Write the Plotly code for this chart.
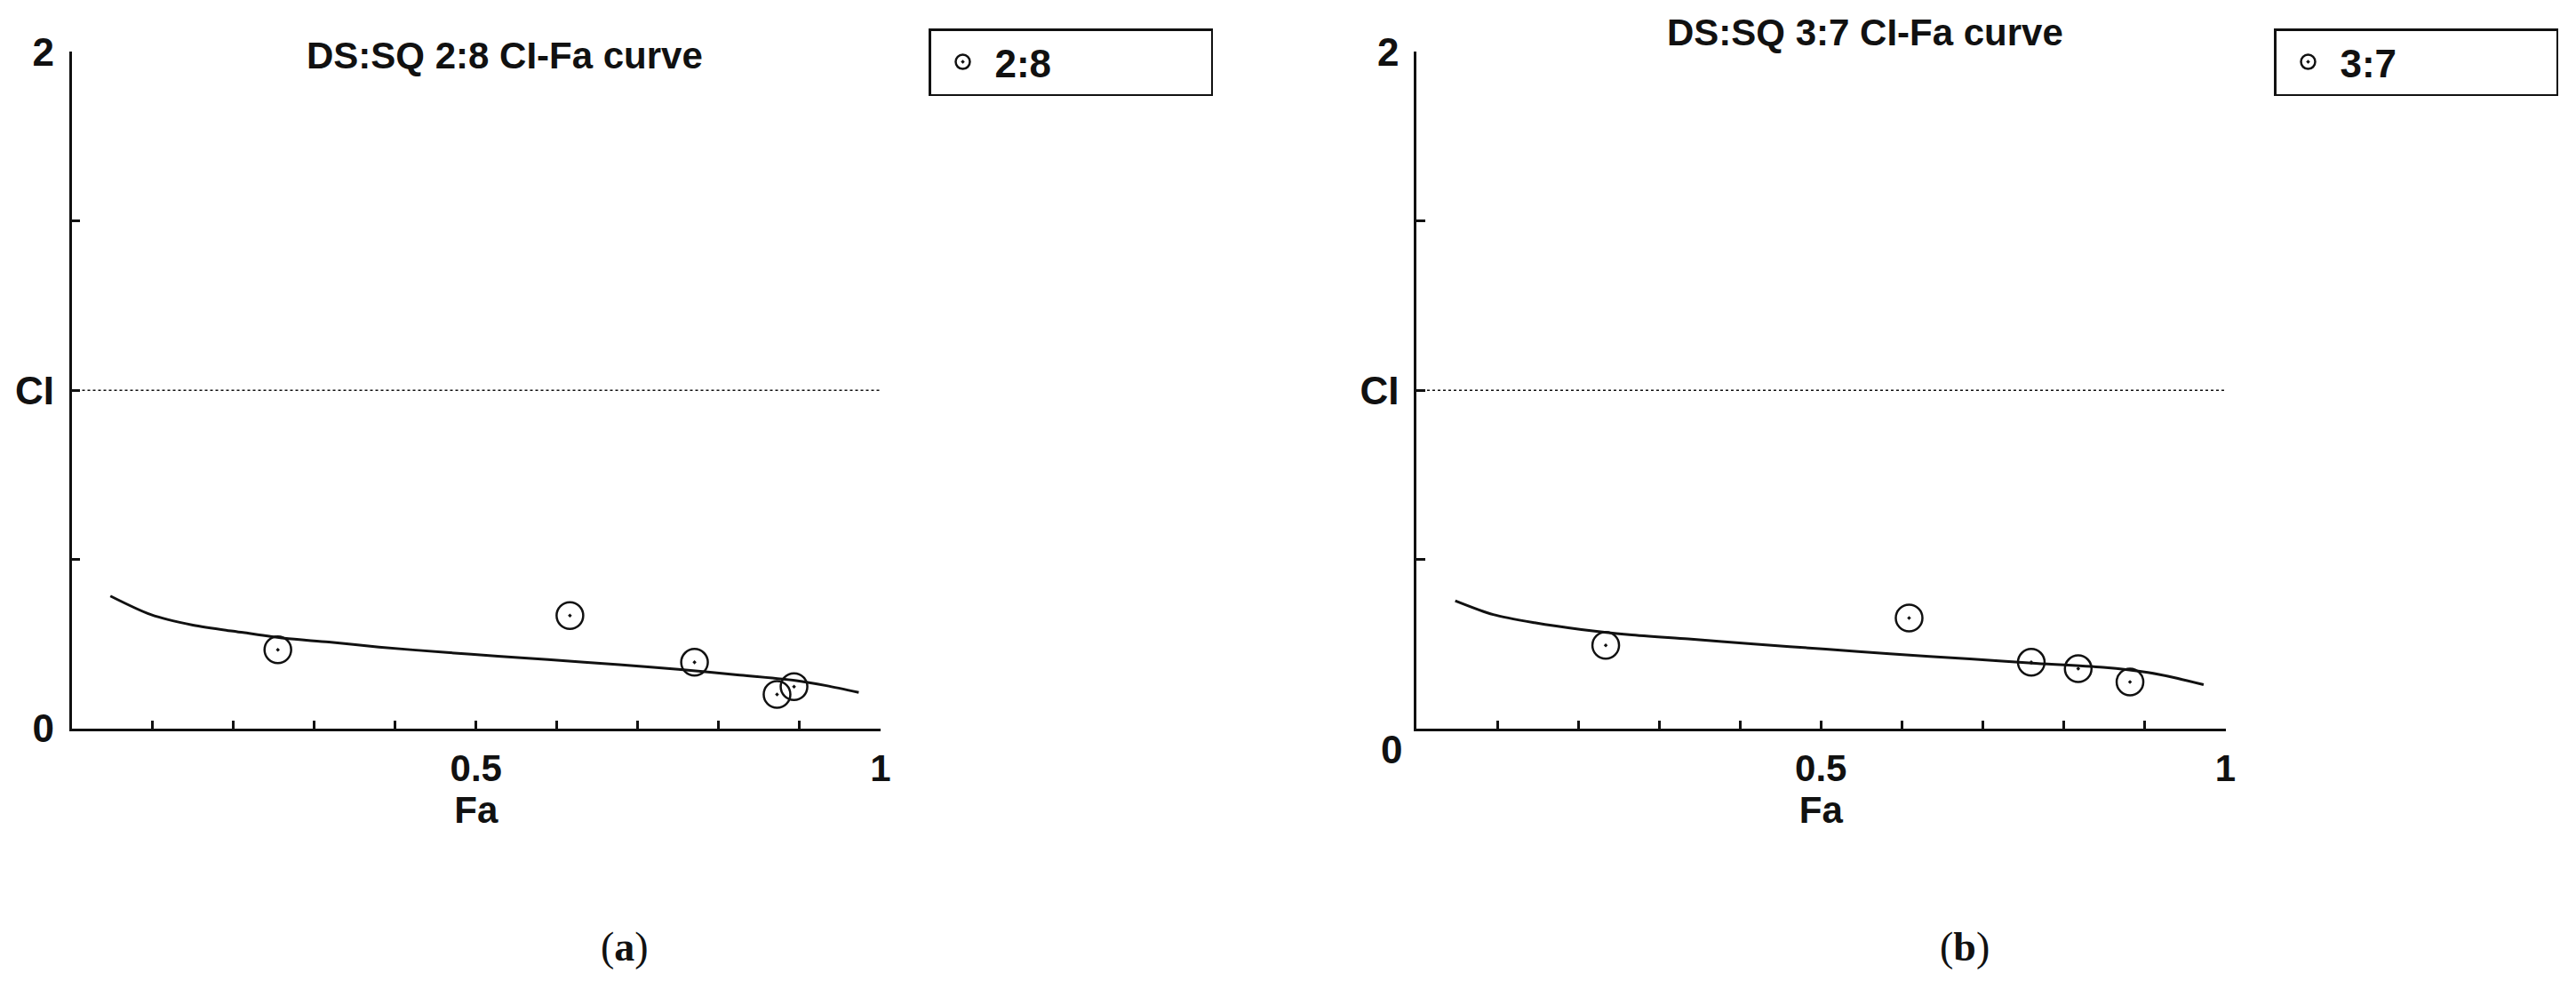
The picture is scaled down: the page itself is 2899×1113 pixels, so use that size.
import plotly.graph_objects as go

W, H = 2899, 1113

# ---- data ----
fa_28 = [0.255, 0.616, 0.770, 0.872, 0.893]
ci_28 = [0.233, 0.334, 0.196, 0.101, 0.124]
curve_fa_28 = [0.048, 0.098, 0.150, 0.212, 0.263, 0.318, 0.380, 0.464, 0.527,
               0.589, 0.677, 0.750, 0.823, 0.896, 0.933, 0.973]
curve_ci_28 = [0.392, 0.337, 0.306, 0.284, 0.267, 0.256, 0.241, 0.225, 0.214,
               0.204, 0.189, 0.175, 0.159, 0.142, 0.127, 0.107]

fa_37 = [0.234, 0.609, 0.760, 0.818, 0.882]
ci_37 = [0.246, 0.327, 0.196, 0.177, 0.138]
curve_fa_37 = [0.048, 0.095, 0.146, 0.204, 0.263, 0.336, 0.417, 0.506, 0.585,
               0.684, 0.757, 0.849, 0.904, 0.940, 0.973]
curve_ci_37 = [0.378, 0.337, 0.313, 0.293, 0.278, 0.265, 0.250, 0.235, 0.221,
               0.206, 0.194, 0.181, 0.166, 0.149, 0.130]

ci_ref = [1, 1]
ci_ref_x = [0, 1]

x_tickvals = [0, 0.1, 0.2, 0.3, 0.4, 0.5, 0.6, 0.7, 0.8, 0.9, 1.0]
x_ticktext = ["", "", "", "", "", "0.5", "", "", "", "", "1"]
y_tickvals = [0, 0.5, 1, 1.5, 2]
y_ticktext_a = ["0", "", "CI", "", "2"]
y_ticktext_b = ["", "", "CI", "", "2"]

titles = ["DS:SQ 2:8 CI-Fa curve", "DS:SQ 3:7 CI-Fa curve"]
series_names = ["2:8", "3:7"]
panel_labels = ["(<b>a</b>)", "(<b>b</b>)"]

FONT = "Liberation Sans, Arial, sans-serif"
BLACK = "#111111"

fig = go.Figure()

panels = [
    dict(xa="x", ya="y", fa=fa_28, ci=ci_28, cfa=curve_fa_28, cci=curve_ci_28,
         name=series_names[0], legend="legend"),
    dict(xa="x2", ya="y2", fa=fa_37, ci=ci_37, cfa=curve_fa_37, cci=curve_ci_37,
         name=series_names[1], legend="legend2"),
]

for p in panels:
    fig.add_trace(go.Scatter(x=ci_ref_x, y=ci_ref, mode="lines", xaxis=p["xa"], yaxis=p["ya"],
                             line=dict(color=BLACK, width=1.5, dash="dot"), showlegend=False,
                             hoverinfo="skip"))
    fig.add_trace(go.Scatter(x=p["cfa"], y=p["cci"], mode="lines", xaxis=p["xa"], yaxis=p["ya"],
                             line=dict(color=BLACK, width=3, shape="spline", smoothing=0.8),
                             showlegend=False))
    fig.add_trace(go.Scatter(x=p["fa"], y=p["ci"], mode="markers", xaxis=p["xa"], yaxis=p["ya"],
                             name=p["name"], legend=p["legend"],
                             marker=dict(symbol="circle-open-dot", size=30, color=BLACK,
                                         line=dict(width=2.5, color=BLACK))))

def xaxis(domain, anchor):
    return dict(domain=domain, anchor=anchor, range=[0, 1], showline=True, linecolor=BLACK,
                linewidth=2.5, ticks="inside", ticklen=9, tickwidth=2.5, tickcolor=BLACK,
                tickvals=x_tickvals, ticktext=x_ticktext, showgrid=False, zeroline=False,
                automargin=False,
                tickfont=dict(family=FONT, size=42, color=BLACK, weight="bold"),
                ticklabelstandoff=6,
                title=dict(text="Fa", font=dict(family=FONT, size=42, color=BLACK, weight="bold"),
                           standoff=4))

def yaxis(domain, anchor, ticktext):
    return dict(domain=domain, anchor=anchor, range=[0, 2], showline=True, linecolor=BLACK,
                linewidth=2.5, ticks="inside", ticklen=10, tickwidth=2.5, tickcolor=BLACK,
                tickvals=y_tickvals, ticktext=ticktext, showgrid=False, zeroline=False,
                automargin=False,
                tickfont=dict(family=FONT, size=44, color=BLACK, weight="bold"),
                ticklabelstandoff=8)

legend_common = dict(xanchor="left", yanchor="top", orientation="h", entrywidth=238,
                     itemwidth=62, bordercolor=BLACK, borderwidth=2.5, bgcolor="white",
                     font=dict(family=FONT, size=44, color=BLACK, weight="bold"))

ydom = [1 - 820 / H, 1 - 58.4 / H]
fig.update_layout(
    width=W, height=H,
    margin=dict(l=0, r=0, t=0, b=0, pad=0, autoexpand=False),
    paper_bgcolor="white", plot_bgcolor="white",
    xaxis=xaxis([80.5 / W, 991 / W], "y"),
    yaxis=yaxis(ydom, "x", y_ticktext_a),
    xaxis2=xaxis([1594 / W, 2504.5 / W], "y2"),
    yaxis2=yaxis(ydom, "x2", y_ticktext_b),
    legend=dict(x=1045 / W, y=1 - 32 / H, **legend_common),
    legend2=dict(x=2559 / W, y=1 - 32 / H, **legend_common),
    showlegend=True,
)

ann_font = dict(family=FONT, size=42, color=BLACK, weight="bold")
fig.add_annotation(text=titles[0], x=568 / W, y=1 - 63 / H, xref="paper", yref="paper",
                   xanchor="center", yanchor="middle", showarrow=False, font=ann_font)
fig.add_annotation(text=titles[1], x=2099 / W, y=1 - 36 / H, xref="paper", yref="paper",
                   xanchor="center", yanchor="middle", showarrow=False, font=ann_font)
fig.add_annotation(text="0", x=1566 / W, y=1 - 843 / H, xref="paper", yref="paper",
                   xanchor="center", yanchor="middle", showarrow=False,
                   font=dict(family=FONT, size=44, color=BLACK, weight="bold"))

serif = dict(family="Liberation Serif, Times New Roman, serif", size=46, color=BLACK)
fig.add_annotation(text=panel_labels[0], x=703 / W, y=1 - 1065 / H, xref="paper", yref="paper",
                   xanchor="center", yanchor="middle", showarrow=False, font=serif)
fig.add_annotation(text=panel_labels[1], x=2211 / W, y=1 - 1065 / H, xref="paper", yref="paper",
                   xanchor="center", yanchor="middle", showarrow=False, font=serif)

fig.write_html("out.html", config={"displayModeBar": False},
               post_script="document.body.style.margin='0';document.body.style.overflow='hidden';")
